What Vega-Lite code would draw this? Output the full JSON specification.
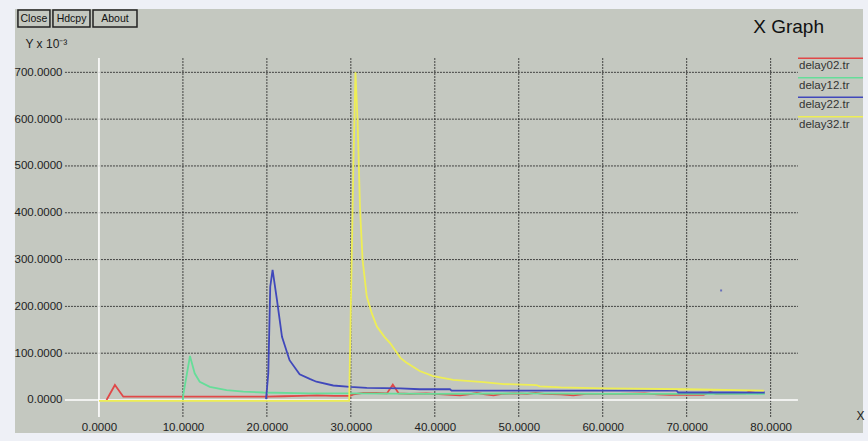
{
  "$schema": "https://vega.github.io/schema/vega-lite/v6.json",
  "width": 848,
  "height": 424,
  "autosize": {"type": "none"},
  "padding": {"left": 15, "top": 9, "right": 5, "bottom": 8},
  "background": "#eef0f6",
  "config": {
    "view": {"fill": "#c4c8c0", "stroke": null},
    "font": "Liberation Sans"
  },
  "title": {
    "text": "X Graph",
    "anchor": "end",
    "fontSize": 19,
    "fontWeight": "normal",
    "font": "Liberation Sans",
    "color": "#111111",
    "dx": -42,
    "dy": 32
  },
  "datasets": {
    "one": [{"k": 1}],
    "hgrid": [{"gy": 100}, {"gy": 200}, {"gy": 300}, {"gy": 400}, {"gy": 500}, {"gy": 600}, {"gy": 700}],
    "vgrid": [{"gx": 10}, {"gx": 20}, {"gx": 30}, {"gx": 40}, {"gx": 50}, {"gx": 60}, {"gx": 70}, {"gx": 80}],
    "series": [
      {"series": "delay02.tr", "x": 0.9, "y": 0},
      {"series": "delay02.tr", "x": 1.9, "y": 32},
      {"series": "delay02.tr", "x": 2.9, "y": 7},
      {"series": "delay02.tr", "x": 10, "y": 7},
      {"series": "delay02.tr", "x": 20, "y": 7},
      {"series": "delay02.tr", "x": 22, "y": 8},
      {"series": "delay02.tr", "x": 24, "y": 9},
      {"series": "delay02.tr", "x": 26, "y": 10},
      {"series": "delay02.tr", "x": 28, "y": 9},
      {"series": "delay02.tr", "x": 29.9, "y": 9},
      {"series": "delay02.tr", "x": 30.3, "y": 12},
      {"series": "delay02.tr", "x": 31.5, "y": 15},
      {"series": "delay02.tr", "x": 33, "y": 15},
      {"series": "delay02.tr", "x": 34.3, "y": 14},
      {"series": "delay02.tr", "x": 35.0, "y": 33},
      {"series": "delay02.tr", "x": 35.7, "y": 14},
      {"series": "delay02.tr", "x": 37, "y": 13},
      {"series": "delay02.tr", "x": 39, "y": 14},
      {"series": "delay02.tr", "x": 41, "y": 12},
      {"series": "delay02.tr", "x": 43, "y": 10},
      {"series": "delay02.tr", "x": 44, "y": 12},
      {"series": "delay02.tr", "x": 45, "y": 15},
      {"series": "delay02.tr", "x": 46, "y": 12},
      {"series": "delay02.tr", "x": 47, "y": 10},
      {"series": "delay02.tr", "x": 48, "y": 13},
      {"series": "delay02.tr", "x": 49.5, "y": 14},
      {"series": "delay02.tr", "x": 51, "y": 13},
      {"series": "delay02.tr", "x": 52, "y": 15},
      {"series": "delay02.tr", "x": 53, "y": 13},
      {"series": "delay02.tr", "x": 55, "y": 12},
      {"series": "delay02.tr", "x": 56.5, "y": 10},
      {"series": "delay02.tr", "x": 58, "y": 13},
      {"series": "delay02.tr", "x": 60, "y": 13},
      {"series": "delay02.tr", "x": 62, "y": 13},
      {"series": "delay02.tr", "x": 65, "y": 14},
      {"series": "delay02.tr", "x": 66.5, "y": 12},
      {"series": "delay02.tr", "x": 68, "y": 11},
      {"series": "delay02.tr", "x": 70, "y": 11},
      {"series": "delay02.tr", "x": 72, "y": 11},
      {"series": "delay02.tr", "x": 72.8, "y": 17},
      {"series": "delay02.tr", "x": 73.5, "y": 13},
      {"series": "delay02.tr", "x": 77, "y": 14},
      {"series": "delay02.tr", "x": 77.4, "y": 18},
      {"series": "delay02.tr", "x": 78.5, "y": 14},
      {"series": "delay12.tr", "x": 10.0, "y": 0},
      {"series": "delay12.tr", "x": 10.05, "y": 12},
      {"series": "delay12.tr", "x": 10.84, "y": 94},
      {"series": "delay12.tr", "x": 11.4, "y": 57},
      {"series": "delay12.tr", "x": 12.0, "y": 39},
      {"series": "delay12.tr", "x": 13.2, "y": 28},
      {"series": "delay12.tr", "x": 15.2, "y": 21},
      {"series": "delay12.tr", "x": 17.2, "y": 18},
      {"series": "delay12.tr", "x": 19.6, "y": 16},
      {"series": "delay12.tr", "x": 25, "y": 14},
      {"series": "delay12.tr", "x": 30, "y": 14},
      {"series": "delay12.tr", "x": 40, "y": 13},
      {"series": "delay12.tr", "x": 50, "y": 14},
      {"series": "delay12.tr", "x": 60, "y": 13},
      {"series": "delay12.tr", "x": 70, "y": 13},
      {"series": "delay12.tr", "x": 79.3, "y": 13},
      {"series": "delay22.tr", "x": 19.9, "y": 2},
      {"series": "delay22.tr", "x": 20.17, "y": 57},
      {"series": "delay22.tr", "x": 20.4, "y": 242},
      {"series": "delay22.tr", "x": 20.68, "y": 278},
      {"series": "delay22.tr", "x": 21.2, "y": 214},
      {"series": "delay22.tr", "x": 21.8, "y": 135},
      {"series": "delay22.tr", "x": 22.7, "y": 85},
      {"series": "delay22.tr", "x": 23.9, "y": 55},
      {"series": "delay22.tr", "x": 25.1, "y": 45},
      {"series": "delay22.tr", "x": 25.9, "y": 39},
      {"series": "delay22.tr", "x": 27.9, "y": 31},
      {"series": "delay22.tr", "x": 29.9, "y": 28},
      {"series": "delay22.tr", "x": 31.9, "y": 26},
      {"series": "delay22.tr", "x": 35.9, "y": 25},
      {"series": "delay22.tr", "x": 38.2, "y": 23},
      {"series": "delay22.tr", "x": 41.8, "y": 23},
      {"series": "delay22.tr", "x": 42.0, "y": 20},
      {"series": "delay22.tr", "x": 68.8, "y": 20},
      {"series": "delay22.tr", "x": 69.0, "y": 16},
      {"series": "delay22.tr", "x": 79.3, "y": 16},
      {"series": "delay32.tr", "x": 0, "y": -2},
      {"series": "delay32.tr", "x": 29.8, "y": -2},
      {"series": "delay32.tr", "x": 29.95, "y": 150},
      {"series": "delay32.tr", "x": 30.3, "y": 500},
      {"series": "delay32.tr", "x": 30.55, "y": 700},
      {"series": "delay32.tr", "x": 30.8, "y": 598},
      {"series": "delay32.tr", "x": 31.1, "y": 406},
      {"series": "delay32.tr", "x": 31.4, "y": 299},
      {"series": "delay32.tr", "x": 31.9, "y": 221},
      {"series": "delay32.tr", "x": 32.5, "y": 185},
      {"series": "delay32.tr", "x": 33.1, "y": 157},
      {"series": "delay32.tr", "x": 34.0, "y": 135},
      {"series": "delay32.tr", "x": 34.7, "y": 121},
      {"series": "delay32.tr", "x": 35.9, "y": 90},
      {"series": "delay32.tr", "x": 36.6, "y": 80},
      {"series": "delay32.tr", "x": 38.2, "y": 62},
      {"series": "delay32.tr", "x": 39.8, "y": 51},
      {"series": "delay32.tr", "x": 42.2, "y": 43},
      {"series": "delay32.tr", "x": 45.8, "y": 38},
      {"series": "delay32.tr", "x": 48.2, "y": 34},
      {"series": "delay32.tr", "x": 52.1, "y": 32},
      {"series": "delay32.tr", "x": 52.5, "y": 29},
      {"series": "delay32.tr", "x": 55, "y": 27},
      {"series": "delay32.tr", "x": 60.1, "y": 25},
      {"series": "delay32.tr", "x": 70, "y": 23},
      {"series": "delay32.tr", "x": 79.2, "y": 20}
    ],
    "stray": [{"series": "delay22.tr", "x": 74.1, "y": 234}]
  },
  "layer": [
    {
      "data": {"name": "hgrid"},
      "mark": {"type": "rule", "stroke": "#222222", "strokeWidth": 1, "strokeDash": [2, 1], "opacity": 0.8},
      "encoding": {
        "y": {"field": "gy", "type": "quantitative", "scale": {"domain": [-70.5, 835.3], "nice": false, "zero": false}, "title": "Y x 10⁻³"},
        "x": {"datum": -4.05, "type": "quantitative", "scale": {"domain": [-10, 91], "nice": false, "zero": false}, "title": "X"},
        "x2": {"datum": 83.25}
      }
    },
    {
      "data": {"name": "vgrid"},
      "mark": {"type": "rule", "stroke": "#222222", "strokeWidth": 1, "strokeDash": [2, 1], "opacity": 0.8},
      "encoding": {
        "x": {"field": "gx", "type": "quantitative", "title": "X"},
        "y": {"datum": -36.3, "type": "quantitative", "title": "Y x 10⁻³"},
        "y2": {"datum": 730.6}
      }
    },
    {
      "data": {"name": "one"},
      "mark": {"type": "rule", "stroke": "#ffffff", "strokeWidth": 1.6},
      "encoding": {
        "x": {"datum": 0, "type": "quantitative", "title": "X"},
        "y": {"datum": -36.3, "type": "quantitative", "title": "Y x 10⁻³"},
        "y2": {"datum": 730.6}
      }
    },
    {
      "data": {"name": "one"},
      "mark": {"type": "rule", "stroke": "#ffffff", "strokeWidth": 1.6},
      "encoding": {
        "y": {"datum": 0, "type": "quantitative", "title": "Y x 10⁻³"},
        "x": {"datum": -4.05, "type": "quantitative", "title": "X"},
        "x2": {"datum": 83.25}
      }
    },
    {
      "data": {"name": "series"},
      "mark": {"type": "line", "strokeWidth": 1.8, "interpolate": "linear"},
      "encoding": {
        "x": {
          "field": "x", "type": "quantitative", "title": "X",
          "axis": {
            "values": [0, 10, 20, 30, 40, 50, 60, 70, 80],
            "format": ".4f",
            "orient": "bottom",
            "offset": -6,
            "domain": false, "ticks": false, "grid": false, "tickSize": 0,
            "labelPadding": 0, "labelBaseline": "middle",
            "labelFontSize": 11.5, "labelColor": "#222222", "labelFont": "Liberation Sans",
            "labelFlush": false, "labelOverlap": false,
            "titleX": 845, "titleY": -12, "titleAlign": "center", "titleBaseline": "middle",
            "titleFontSize": 12, "titleFontWeight": "normal", "titleColor": "#222222", "titleFont": "Liberation Sans"
          }
        },
        "y": {
          "field": "y", "type": "quantitative", "title": "Y x 10⁻³",
          "axis": {
            "values": [0, 100, 200, 300, 400, 500, 600, 700],
            "format": ".4f",
            "orient": "left",
            "offset": -47,
            "domain": false, "ticks": false, "grid": false, "tickSize": 0,
            "labelPadding": 0, "labelAlign": "right", "labelBaseline": "middle",
            "labelFontSize": 11.5, "labelColor": "#222222", "labelFont": "Liberation Sans",
            "labelFlush": false, "labelOverlap": false,
            "titleAngle": 0, "titleX": -37, "titleY": 34, "titleAlign": "left", "titleBaseline": "middle",
            "titleFontSize": 12, "titleFontWeight": "normal", "titleColor": "#222222", "titleFont": "Liberation Sans"
          }
        },
        "color": {
          "field": "series", "type": "nominal",
          "scale": {
            "domain": ["delay02.tr", "delay12.tr", "delay22.tr", "delay32.tr"],
            "range": ["#e04848", "#66dd99", "#4048bb", "#eeee55"]
          },
          "legend": {
            "orient": "none", "legendX": 782, "legendY": 51,
            "title": null, "padding": 0,
            "symbolType": "M-1,-1.54H12", "symbolSize": 100, "symbolStrokeWidth": 1.5,
            "symbolFillColor": "transparent",
            "labelOffset": -10, "labelFontSize": 11.5, "labelColor": "#333333", "labelFont": "Liberation Sans",
            "rowPadding": 2.5
          }
        }
      }
    },
    {
      "data": {"name": "stray"},
      "mark": {"type": "square", "size": 4, "filled": true, "color": "#4048bb"},
      "encoding": {
        "x": {"field": "x", "type": "quantitative", "title": "X"},
        "y": {"field": "y", "type": "quantitative", "title": "Y x 10⁻³"}
      }
    },
    {
      "data": {"name": "one"},
      "mark": {"type": "rect", "fill": "#c4c8c0", "stroke": "#222222", "strokeWidth": 1.5, "clip": false},
      "encoding": {"x": {"datum": -9.65, "type": "quantitative"}, "x2": {"datum": -5.84}, "y": {"datum": 833, "type": "quantitative"}, "y2": {"datum": 797}}
    },
    {
      "data": {"name": "one"},
      "mark": {"type": "rect", "fill": "#c4c8c0", "stroke": "#222222", "strokeWidth": 1.5, "clip": false},
      "encoding": {"x": {"datum": -5.48, "type": "quantitative"}, "x2": {"datum": -1.07}, "y": {"datum": 833, "type": "quantitative"}, "y2": {"datum": 797}}
    },
    {
      "data": {"name": "one"},
      "mark": {"type": "rect", "fill": "#c4c8c0", "stroke": "#222222", "strokeWidth": 1.5, "clip": false},
      "encoding": {"x": {"datum": -0.71, "type": "quantitative"}, "x2": {"datum": 4.53}, "y": {"datum": 833, "type": "quantitative"}, "y2": {"datum": 797}}
    },
    {
      "data": {"name": "one"},
      "mark": {"type": "text", "text": "Close", "fontSize": 10.5, "color": "#111111", "font": "Liberation Sans", "align": "center", "baseline": "middle"},
      "encoding": {"x": {"datum": -7.75, "type": "quantitative"}, "y": {"datum": 815, "type": "quantitative"}}
    },
    {
      "data": {"name": "one"},
      "mark": {"type": "text", "text": "Hdcpy", "fontSize": 10.5, "color": "#111111", "font": "Liberation Sans", "align": "center", "baseline": "middle"},
      "encoding": {"x": {"datum": -3.27, "type": "quantitative"}, "y": {"datum": 815, "type": "quantitative"}}
    },
    {
      "data": {"name": "one"},
      "mark": {"type": "text", "text": "About", "fontSize": 10.5, "color": "#111111", "font": "Liberation Sans", "align": "center", "baseline": "middle"},
      "encoding": {"x": {"datum": 1.91, "type": "quantitative"}, "y": {"datum": 815, "type": "quantitative"}}
    }
  ]
}
